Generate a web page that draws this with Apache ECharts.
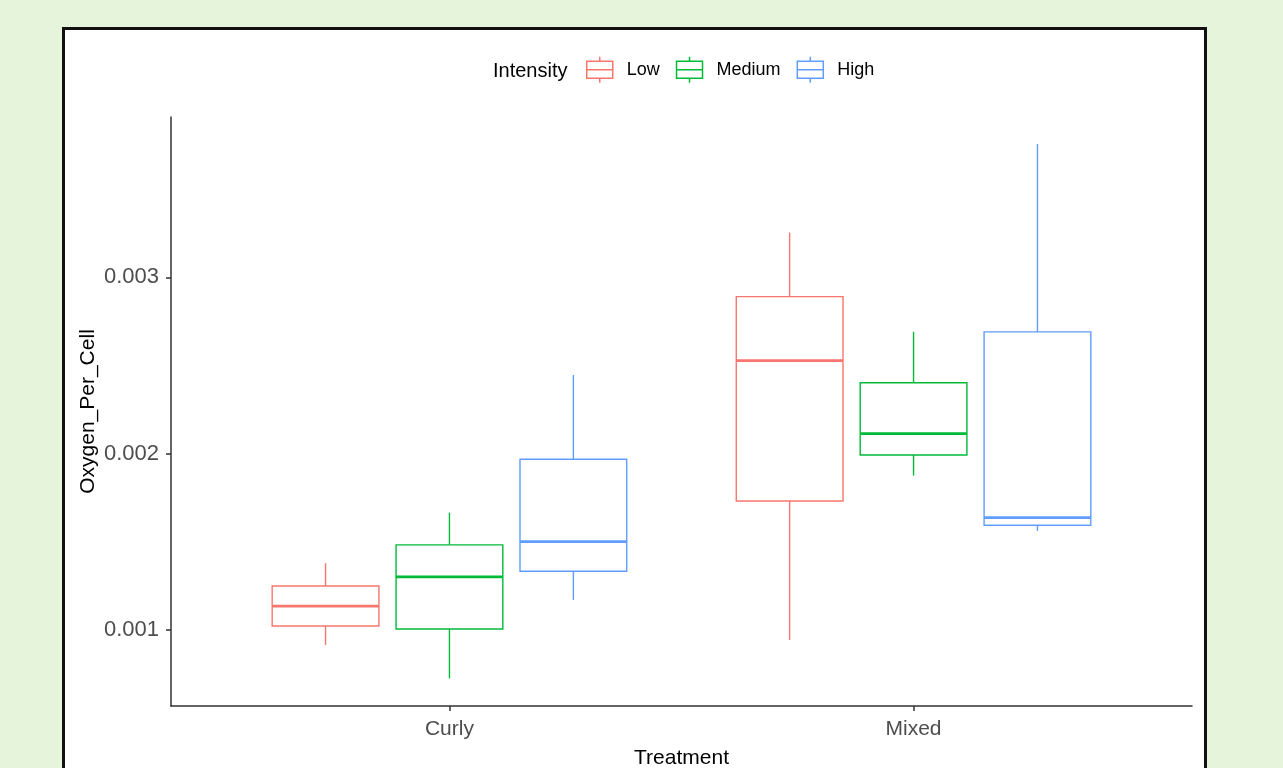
<!DOCTYPE html>
<html>
<head>
<meta charset="utf-8">
<script src="https://cdn.jsdelivr.net/npm/echarts@6/dist/echarts.min.js"></script>
<style>
  html, body { margin: 0; padding: 0; width: 1283px; height: 768px; overflow: hidden; background: #e7f4dc; }
  #panel { position: absolute; left: 62px; top: 27px; width: 1145px; height: 800px; box-sizing: border-box; border: 3px solid #111; background: #fff; }
  #chart { position: absolute; left: 0; top: 0; width: 1283px; height: 768px; }
</style>
</head>
<body>
<div id="panel"></div>
<div id="chart"></div>
<script>
// ---- data ----
const categories = ['Curly', 'Mixed'];
const intensities = ['Low', 'Medium', 'High'];
// each row: [min, q1, median, q3, max] per treatment
const lowData = [
  [0.000914, 0.001022, 0.001134, 0.001249, 0.001378],
  [0.000943, 0.001731, 0.002527, 0.002890, 0.003253]
];
const mediumData = [
  [0.000725, 0.001005, 0.001300, 0.001482, 0.001665],
  [0.001875, 0.001992, 0.002113, 0.002402, 0.002691]
];
const highData = [
  [0.001170, 0.001332, 0.001500, 0.001968, 0.002446],
  [0.001561, 0.001593, 0.001636, 0.002690, 0.003756]
];
const yTickValues = [0.001, 0.002, 0.003];

// ---- styling / layout ----
const colors = ['#F8766D', '#00BA38', '#619CFF'];
const dodge = [-0.267, 0, 0.267];
const halfWidth = 0.115;
const FONT = "'Liberation Sans', Arial, sans-serif";
const boxIcon = 'path://M0,4.5 H26 V21.5 H0 Z M0,13 H26 M13,0 V4.5 M13,21.5 V26';

const seriesData = [lowData, mediumData, highData];

function makeSeries(si) {
  return {
    name: intensities[si],
    type: 'custom',
    data: categories.map((c, i) => [i + 1].concat(seriesData[si][i])),
    itemStyle: { color: colors[si] },
    renderItem: function (params, api) {
      const x = api.value(0) + dodge[si];
      const vmin = api.value(1), q1 = api.value(2), med = api.value(3), q3 = api.value(4), vmax = api.value(5);
      const pMin = api.coord([x, vmin]);
      const pQ1 = api.coord([x, q1]);
      const pMed = api.coord([x, med]);
      const pQ3 = api.coord([x, q3]);
      const pMax = api.coord([x, vmax]);
      const left = api.coord([x - halfWidth, q3])[0];
      const right = api.coord([x + halfWidth, q3])[0];
      const stroke = { stroke: colors[si], lineWidth: 1.4, fill: 'none' };
      return {
        type: 'group',
        children: [
          { type: 'line', shape: { x1: pMax[0], y1: pMax[1], x2: pQ3[0], y2: pQ3[1] }, style: stroke },
          { type: 'line', shape: { x1: pQ1[0], y1: pQ1[1], x2: pMin[0], y2: pMin[1] }, style: stroke },
          { type: 'rect', shape: { x: left, y: pQ3[1], width: right - left, height: pQ1[1] - pQ3[1] }, style: { stroke: colors[si], lineWidth: 1.4, fill: '#fff' } },
          { type: 'line', shape: { x1: left, y1: pMed[1], x2: right, y2: pMed[1] }, style: { stroke: colors[si], lineWidth: 2.8 } }
        ]
      };
    }
  };
}

const chart = echarts.init(document.getElementById('chart'), null, { renderer: 'canvas' });
chart.setOption({
  backgroundColor: 'transparent',
  animation: false,
  textStyle: { fontFamily: FONT },
  title: {
    text: 'Intensity',
    left: 488, top: 56,
    textStyle: { fontFamily: FONT, fontSize: 20, fontWeight: 'normal', color: '#000' }
  },
  legend: {
    left: 581, top: 51,
    itemWidth: 26, itemHeight: 26, itemGap: 16,
    textStyle: { fontFamily: FONT, fontSize: 18, color: '#000', padding: [0, 0, 0, 9] },
    data: intensities.map((n, i) => ({
      name: n, icon: boxIcon,
      itemStyle: { color: 'transparent', borderColor: colors[i], borderWidth: 1.5 }
    }))
  },
  grid: { left: 171, right: 91, top: 117, bottom: 62, containLabel: false, outerBoundsMode: 'none' },
  xAxis: {
    type: 'value', min: 0.4, max: 2.6,
    name: 'Treatment', nameLocation: 'middle', nameGap: 42, nameMoveOverlap: false,
    nameTextStyle: { fontFamily: FONT, fontSize: 21, color: '#000' },
    axisLine: { show: true, onZero: false, lineStyle: { color: '#333', width: 1.5 } },
    axisTick: { show: true, length: 5, customValues: [1, 2], lineStyle: { color: '#333', width: 1.5 } },
    axisLabel: { customValues: [1, 2], margin: 13, fontFamily: FONT, fontSize: 21, color: '#4d4d4d',
      formatter: v => categories[Math.round(v) - 1] || '' },
    splitLine: { show: false }
  },
  yAxis: {
    type: 'value', min: 0.000568, max: 0.003909,
    name: 'Oxygen_Per_Cell', nameLocation: 'middle', nameGap: 72, nameRotate: 90, nameMoveOverlap: false,
    nameTextStyle: { fontFamily: FONT, fontSize: 21, color: '#000' },
    axisLine: { show: true, lineStyle: { color: '#333', width: 1.5 } },
    axisTick: { show: true, length: 5, customValues: yTickValues, lineStyle: { color: '#333', width: 1.5 } },
    axisLabel: { customValues: yTickValues, margin: 12, fontFamily: FONT, fontSize: 22, color: '#4d4d4d',
      formatter: v => v.toFixed(3) },
    splitLine: { show: false }
  },
  series: [makeSeries(0), makeSeries(1), makeSeries(2)]
});
</script>
</body>
</html>
